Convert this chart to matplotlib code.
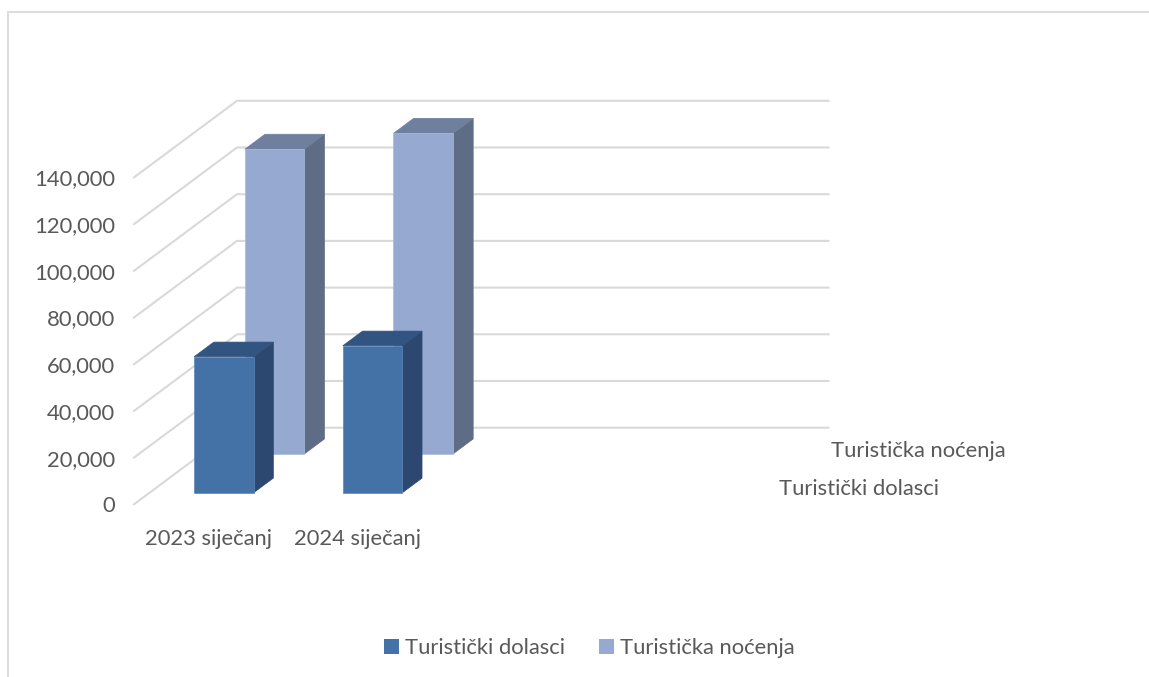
import numpy as np
import matplotlib
matplotlib.use('Agg')
import matplotlib.pyplot as plt
from matplotlib.lines import Line2D
from matplotlib.patches import Patch
##################################################################
plt.rcParams['font.family'] = ['Lato', 'DejaVu Sans']

categories = ['2023 siječanj', '2024 siječanj']
series_names = ['Turistički dolasci', 'Turistička noćenja']
dolasci = [58250, 62950]
nocenja = [130500, 137300]
yticks = [0, 20000, 40000, 60000, 80000, 100000, 120000, 140000]
##################################################################
W, H = 1149, 677
fig = plt.figure(figsize=(W/100, H/100), dpi=100)
# axes box: front left of the floor up to the top of the back wall
left, right, bottom, top = 134, 828.5, 504.3, 100.5
ax = fig.add_axes([left/W, 1 - bottom/H, (right - left)/W, (bottom - top)/H])

cat_px = 148.7                 # one category in pixels
val_px = 20000/46.7            # value per pixel
DX = 103/cat_px                # full depth of the box, in data units
DY = 76.6*val_px
ax.set_xlim(0, (right - left)/cat_px)
ax.set_ylim(0, (bottom - top)*val_px)

text_c = '#595959'
grid_c = '#D9D9D9'
fs = 15.8

def proj(x, v, d):
    return x + d*DX, v + d*DY

def bar3d(x, w, v, d0, d1, c_front, c_side, c_top, c_edge):
    pts = lambda *p: np.array([proj(*q) for q in p])
    xl, xr = x - w/2, x + w/2
    side = pts((xr, 0, d0), (xr, 0, d1), (xr, v, d1), (xr, v, d0))
    roof = pts((xl, v, d0), (xr, v, d0), (xr, v, d1), (xl, v, d1))
    front = pts((xl, 0, d0), (xr, 0, d0), (xr, v, d0), (xl, v, d0))
    ax.fill(side[:, 0], side[:, 1], facecolor=c_side, edgecolor=c_side, lw=0.5, zorder=3)
    ax.fill(roof[:, 0], roof[:, 1], facecolor=c_top, edgecolor=c_top, lw=0.5, zorder=3)
    ax.fill(front[:, 0], front[:, 1], facecolor=c_front, edgecolor=c_edge, lw=0.5, zorder=3)

##################################################################
# gridlines: side wall then back wall
for v in yticks:
    x0, y0 = proj(0, v, 0)
    x1, y1 = proj(0, v, 1)
    ax.plot([x0, x1, ax.get_xlim()[1]], [y0, y1, y1], color=grid_c, lw=1.5, zorder=1,
            solid_joinstyle='miter', clip_on=False)

##################################################################
bar_w = 59.5/cat_px
xpos = np.arange(len(categories)) + 0.5
col_a = ['#4472A6', '#2C4870', '#325480', '#5A86B8']
col_b = ['#95A9D1', '#5E6C85', '#6F7F9E', '#A9BBDC']
for x, v in zip(xpos, nocenja):
    bar3d(x - 0.01, bar_w, v, 0.657, 0.853, *col_b)
for x, v in zip(xpos, dolasci):
    bar3d(x, bar_w, v, 0.151, 0.342, *col_a)

##################################################################
ax.set_yticks(yticks)
ax.set_yticklabels(['{:,}'.format(v) for v in yticks])
ax.set_xticks(xpos)
ax.set_xticklabels(categories)
ax.tick_params(axis='y', length=0, pad=13.5, labelsize=fs, labelcolor=text_c)
ax.tick_params(axis='x', length=0, pad=17.5, labelsize=fs, labelcolor=text_c)
for s in ax.spines.values():
    s.set_visible(False)
ax.patch.set_visible(False)

# series names along the depth axis
xend = ax.get_xlim()[1] - DX
for name, d, yo in zip(series_names, [0.249, 0.755], [-4, -5]):
    xt, yt = proj(xend, 0, d)
    ax.annotate(name, xy=(xt, yt), xytext=(28, yo), textcoords='offset pixels',
                fontsize=fs, color=text_c, ha='left', va='center', annotation_clip=False)

handles = [Patch(facecolor=col_a[0], label=series_names[0]),
           Patch(facecolor=col_b[0], label=series_names[1])]
fig.legend(handles=handles, loc='center', bbox_to_anchor=(589/W, 1 - 648/H), ncol=2, frameon=False,
           fontsize=fs, labelcolor=text_c, handlelength=0.7, handleheight=0.7,
           handletextpad=0.25, columnspacing=1.55)

# outer chart border, top and left only are in the picture
border = '#DDDDDD'
fig.add_artist(Line2D([8/W, 8/W, 1], [0, 1 - 11.5/H, 1 - 11.5/H], color=border, lw=1.5,
                      transform=fig.transFigure, solid_joinstyle='miter'))

fig.savefig('out.png', dpi=100)
